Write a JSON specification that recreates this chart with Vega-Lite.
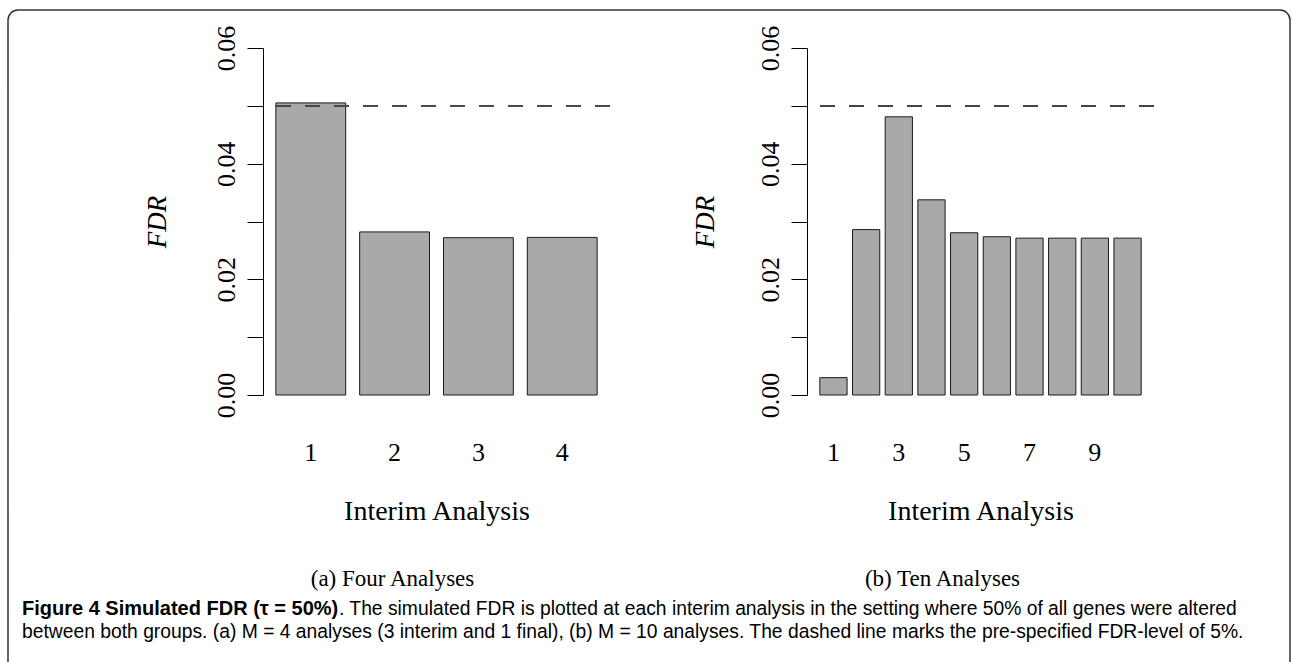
{
  "$schema": "https://vega.github.io/schema/vega-lite/v6.json",
  "background": "white",
  "padding": {"left": 7, "top": 9, "right": 2, "bottom": 2},
  "datasets": {
    "four": [
      {"analysis": 1, "fdr": 0.0505},
      {"analysis": 2, "fdr": 0.0282},
      {"analysis": 3, "fdr": 0.0272},
      {"analysis": 4, "fdr": 0.02725}
    ],
    "ten": [
      {"analysis": 1, "fdr": 0.0030},
      {"analysis": 2, "fdr": 0.0286},
      {"analysis": 3, "fdr": 0.0481},
      {"analysis": 4, "fdr": 0.03375},
      {"analysis": 5, "fdr": 0.02805},
      {"analysis": 6, "fdr": 0.02736},
      {"analysis": 7, "fdr": 0.02712},
      {"analysis": 8, "fdr": 0.02712},
      {"analysis": 9, "fdr": 0.02712},
      {"analysis": 10, "fdr": 0.02712}
    ],
    "none": []
  },
  "config": {
    "view": {"stroke": null},
    "font": "Liberation Serif",
    "axis": {
      "labelFont": "Liberation Serif",
      "titleFont": "Liberation Serif",
      "labelColor": "black",
      "titleColor": "black",
      "domainColor": "black",
      "tickColor": "black",
      "grid": false,
      "titleFontWeight": "normal",
      "labelOverlap": false,
      "labelFlush": false
    },
    "axisY": {
      "labelAngle": -90,
      "labelFontSize": 26,
      "tickSize": 16,
      "labelPadding": 8,
      "titleFontSize": 27,
      "titleFontStyle": "italic",
      "domainWidth": 1,
      "tickWidth": 1
    },
    "axisX": {
      "domain": false,
      "ticks": false,
      "tickSize": 0,
      "labelAngle": 0,
      "labelFontSize": 26,
      "labelPadding": 44,
      "titleFontSize": 28,
      "titlePadding": 32
    }
  },
  "align": "none",
  "spacing": -686,
  "vconcat": [
    {
      "width": 1282,
      "height": 700,
      "data": {"name": "none"},
      "view": {"stroke": "#333333", "strokeWidth": 1.5, "cornerRadius": 10},
      "title": {
        "text": "Figure 4 Simulated FDR (τ = 50%)",
        "subtitle": "between both groups. (a) M = 4 analyses (3 interim and 1 final), (b) M = 10 analyses. The dashed line marks the pre-specified FDR-level of 5%.",
        "orient": "top",
        "anchor": "start",
        "frame": "group",
        "font": "Liberation Sans",
        "fontSize": 20,
        "fontWeight": "bold",
        "color": "black",
        "subtitleFont": "Liberation Sans",
        "subtitleFontSize": 19.3,
        "subtitleFontWeight": "normal",
        "subtitleColor": "black",
        "subtitlePadding": 4,
        "offset": -632,
        "dx": 14
      },
      "mark": "rect",
      "encoding": {}
    },
    {
      "align": "none",
      "spacing": 0,
      "vconcat": [
        {
          "align": "none",
          "spacing": 80,
          "hconcat": [
            {
              "width": 55,
              "height": 10,
              "data": {"name": "none"},
              "mark": "rect",
              "encoding": {}
            },
            {
              "width": 347,
              "height": 347,
              "data": {"name": "four"},
              "title": {
                "text": "(a) Four Analyses",
                "orient": "bottom",
                "anchor": "middle",
                "frame": "group",
                "font": "Liberation Serif",
                "fontSize": 23,
                "fontWeight": "normal",
                "color": "black",
                "offset": 43,
                "dx": -44
              },
              "layer": [
                {
                  "mark": {"type": "bar", "fill": "#a9a9a9", "stroke": "#1a1a1a", "strokeWidth": 1},
                  "encoding": {
                    "x": {
                      "field": "analysis",
                      "type": "ordinal",
                      "scale": {"paddingInner": 0.1667, "paddingOuter": 0.1533},
                      "axis": {"title": "Interim Analysis"}
                    },
                    "y": {
                      "field": "fdr",
                      "type": "quantitative",
                      "scale": {"domain": [0, 0.06], "nice": false, "zero": true},
                      "axis": {
                        "title": "FDR",
                        "titlePadding": 41.6,
                        "values": [0, 0.01, 0.02, 0.03, 0.04, 0.05, 0.06],
                        "labelExpr": "round(datum.value * 100) % 2 == 0 ? format(datum.value, '.2f') : ''"
                      }
                    }
                  }
                },
                {
                  "mark": {"type": "rule", "color": "#444444", "strokeWidth": 1.5, "strokeDash": [15, 14]},
                  "encoding": {"y": {"datum": 0.05}}
                }
              ]
            },
            {
              "width": 347,
              "height": 347,
              "data": {"name": "ten"},
              "title": {
                "text": "(b) Ten Analyses",
                "orient": "bottom",
                "anchor": "middle",
                "frame": "group",
                "font": "Liberation Serif",
                "fontSize": 23,
                "fontWeight": "normal",
                "color": "black",
                "offset": 43,
                "dx": -38
              },
              "layer": [
                {
                  "mark": {"type": "bar", "fill": "#a9a9a9", "stroke": "#1a1a1a", "strokeWidth": 1},
                  "encoding": {
                    "x": {
                      "field": "analysis",
                      "type": "ordinal",
                      "scale": {"paddingInner": 0.1667, "paddingOuter": 0.393},
                      "axis": {"title": "Interim Analysis", "values": [1, 3, 5, 7, 9]}
                    },
                    "y": {
                      "field": "fdr",
                      "type": "quantitative",
                      "scale": {"domain": [0, 0.06], "nice": false, "zero": true},
                      "axis": {
                        "title": "FDR",
                        "titlePadding": 38,
                        "values": [0, 0.01, 0.02, 0.03, 0.04, 0.05, 0.06],
                        "labelExpr": "round(datum.value * 100) % 2 == 0 ? format(datum.value, '.2f') : ''"
                      }
                    }
                  }
                },
                {
                  "mark": {"type": "rule", "color": "#444444", "strokeWidth": 1.5, "strokeDash": [15, 14]},
                  "encoding": {"y": {"datum": 0.05}}
                }
              ]
            }
          ]
        },
        {
          "width": 1,
          "height": 1,
          "data": {"name": "none"},
          "mark": "rect",
          "encoding": {},
          "title": {
            "text": ". The simulated FDR is plotted at each interim analysis in the setting where 50% of all genes were altered",
            "orient": "bottom",
            "anchor": "start",
            "frame": "group",
            "font": "Liberation Sans",
            "fontSize": 19.3,
            "fontWeight": "normal",
            "color": "black",
            "offset": 7.5,
            "dx": 331
          }
        }
      ]
    }
  ]
}
